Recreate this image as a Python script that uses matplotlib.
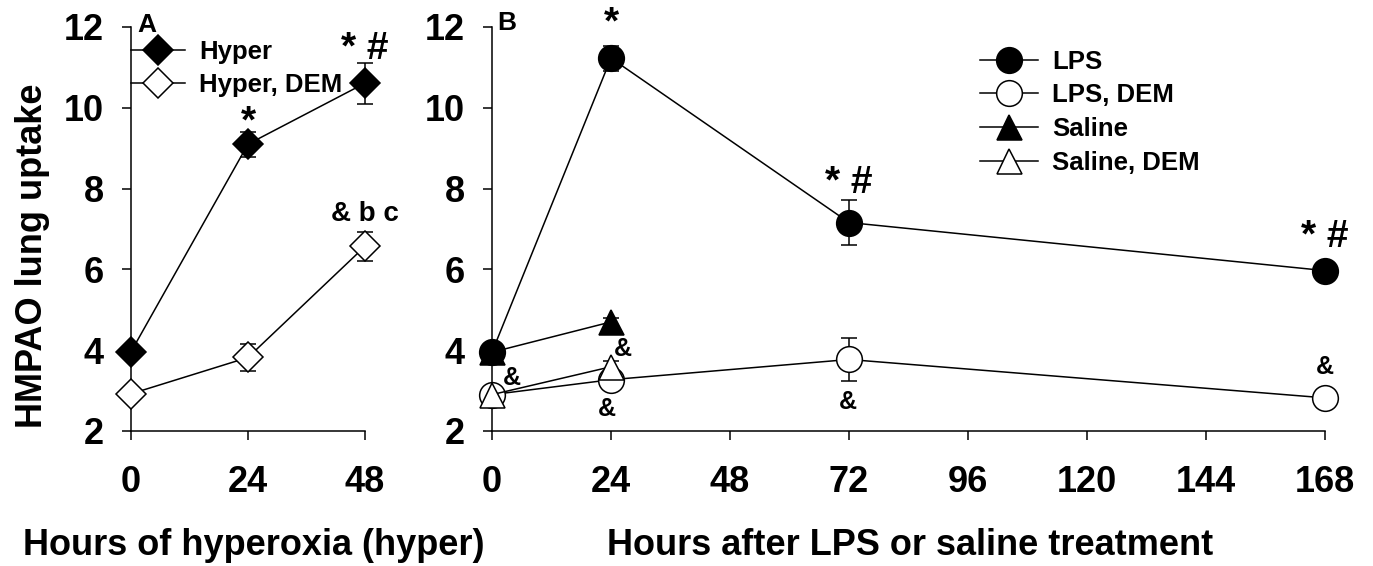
import matplotlib
matplotlib.use('Agg')
import matplotlib.pyplot as plt

plt.rcParams['font.family'] = ['Liberation Sans', 'DejaVu Sans']
plt.rcParams['font.weight'] = 'bold'

# panel A: hyperoxia
hoursA = [0, 24, 48]
hyper = [3.96, 9.1, 10.61]
hyperErr = [0.15, 0.31, 0.51]
hyperDem = [2.92, 3.82, 6.57]
hyperDemErr = [0.15, 0.33, 0.36]

# panel B: LPS / saline
hoursLps = [0, 24, 72, 168]
lps = [3.95, 11.23, 7.16, 5.97]
lpsErr = [0.12, 0.31, 0.55, 0.1]
lpsDem = [2.9, 3.27, 3.77, 2.82]
lpsDemErr = [0.12, 0.15, 0.53, 0.1]
hoursSal = [0, 24]
saline = [3.95, 4.7]
salineErr = [0.1, 0.1]
salineDem = [2.9, 3.59]
salineDemErr = [0.1, 0.15]

ticksA = [0, 24, 48]
ticksB = [0, 24, 48, 72, 96, 120, 144, 168]
yticks = [2, 4, 6, 8, 10, 12]

# significance marks: (x, y, text, fontsize)
marksA = [(24, 9.4, '*', 28), (48, 11.2, '* #', 28), (48, 7.2, '& b c', 20)]
marksB = [(24, 11.83, '*', 28), (72, 7.9, '* #', 28), (168, 6.55, '* #', 28),
          (26.4, 3.85, '&', 18), (4, 3.15, '&', 18), (23.2, 2.37, '&', 18),
          (71.8, 2.55, '&', 18), (168, 3.41, '&', 18)]

W, H = 1373, 566
fig = plt.figure(figsize=(W / 100, H / 100), dpi=100)
axA = fig.add_axes([131 / W, 1 - 431 / H, 234 / W, 404 / H])
axB = fig.add_axes([492 / W, 1 - 431 / H, 833 / W, 404 / H])

lw = 1.1
ms_kw = dict(color='black', mec='black', mew=1.1, lw=lw, clip_on=False, zorder=3)
eb_kw = dict(fmt='none', ecolor='black', elinewidth=lw, capsize=5.5, capthick=lw,
             clip_on=False, zorder=2)


def series(ax, x, y, e, marker, ms, filled, label):
    ax.errorbar(x, y, yerr=e, **eb_kw)
    line, = ax.plot(x, y, marker=marker, ms=ms, mfc='black' if filled else 'white',
                    label=label, **ms_kw)
    return line


hA = [series(axA, hoursA, hyper, hyperErr, 'D', 15, True, 'Hyper'),
      series(axA, hoursA, hyperDem, hyperDemErr, 'D', 15, False, 'Hyper, DEM')]
hB = [series(axB, hoursLps, lps, lpsErr, 'o', 18.5, True, 'LPS'),
      series(axB, hoursLps, lpsDem, lpsDemErr, 'o', 18.5, False, 'LPS, DEM'),
      series(axB, hoursSal, saline, salineErr, '^', 18, True, 'Saline'),
      series(axB, hoursSal, salineDem, salineDemErr, '^', 18, False, 'Saline, DEM')]

for ax, ticks, xmax in [(axA, ticksA, 48), (axB, ticksB, 168)]:
    ax.set_xlim(0, xmax)
    ax.set_ylim(2, 12)
    ax.set_xticks(ticks)
    ax.set_yticks(yticks)
    ax.spines['top'].set_visible(False)
    ax.spines['right'].set_visible(False)
    ax.spines['left'].set_linewidth(lw)
    ax.spines['bottom'].set_linewidth(lw)
    ax.tick_params(direction='out', length=6.5, width=lw, labelsize=26)
    ax.tick_params(axis='x', pad=18)
    ax.tick_params(axis='y', pad=13)
    for lab in ax.get_xticklabels() + ax.get_yticklabels():
        lab.set_fontweight('bold')

for x, y, t, fs in marksA:
    axA.text(x, y, t, ha='center', va='baseline', fontsize=fs, fontweight='bold')
for x, y, t, fs in marksB:
    axB.text(x, y, t, ha='center', va='baseline', fontsize=fs, fontweight='bold')

axA.set_ylabel('HMPAO lung uptake', fontsize=26, fontweight='bold')
axA.yaxis.set_label_coords(-0.345, 0.433)
axA.set_xlabel('Hours of hyperoxia (hyper)', fontsize=26, fontweight='bold')
axA.xaxis.set_label_coords(0.526, -0.24)
axB.set_xlabel('Hours after LPS or saline treatment', fontsize=26, fontweight='bold')
axB.xaxis.set_label_coords(0.502, -0.24)

axA.legend(handles=hA, loc='upper left', bbox_to_anchor=(0.0, 0.969), frameon=False,
           handlelength=2.1, handletextpad=0.55, labelspacing=0.35,
           borderpad=0, borderaxespad=0, prop={'weight': 'bold', 'size': 18.5})
axB.legend(handles=hB, loc='upper left', bbox_to_anchor=(0.586, 0.944), frameon=False,
           handlelength=2.25, handletextpad=0.55, labelspacing=0.38,
           borderpad=0, borderaxespad=0, prop={'weight': 'bold', 'size': 18.5})

fig.text(137 / W, 1 - 13 / H, 'A', ha='left', va='top', fontsize=19, fontweight='bold')
fig.text(497 / W, 1 - 11 / H, 'B', ha='left', va='top', fontsize=19, fontweight='bold')

fig.savefig('out.png', dpi=100)
